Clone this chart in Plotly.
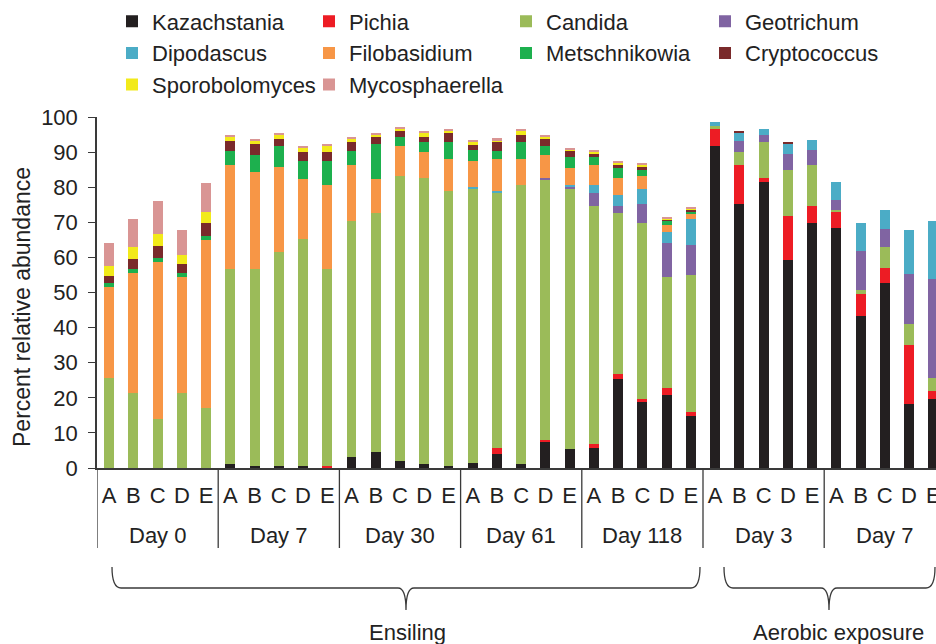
import plotly.graph_objects as go

# ---------------- data ----------------
groups = ["Day 0", "Day 7", "Day 30", "Day 61", "Day 118", "Day 3", "Day 7"]
samples = ["A", "B", "C", "D", "E"]
phases = ["Ensiling", "Aerobic exposure"]

genera = ["Kazachstania", "Pichia", "Candida", "Geotrichum", "Dipodascus",
          "Filobasidium", "Metschnikowia", "Cryptococcus", "Sporobolomyces", "Mycosphaerella"]

kazachstania = [0, 0, 0, 0, 0,
                1.0, 0.5, 0.5, 0.5, 0,
                3.2, 4.6, 2.1, 1.0, 0.5,
                1.5, 4.1, 1.0, 7.4, 5.3,
                5.8, 25.5, 18.7, 20.8, 14.9,
                91.6, 75.2, 81.6, 59.2, 69.9,
                68.3, 43.2, 52.8, 18.1, 19.7]
pichia = [0, 0, 0, 0, 0,
          0, 0, 0, 0, 0.6,
          0, 0, 0, 0, 0,
          0, 1.7, 0, 0.6, 0,
          1.1, 1.2, 1.1, 2.1, 1.1,
          4.9, 11.1, 1.0, 12.7, 4.7,
          4.7, 6.5, 4.3, 17.0, 2.1]
candida = [25.7, 21.5, 14.0, 21.5, 17.2,
           55.7, 56.2, 60.9, 64.7, 56.1,
           67.1, 68.0, 81.1, 81.7, 78.4,
           78.0, 72.6, 79.6, 74.2, 74.2,
           67.8, 45.9, 50.1, 31.6, 39.0,
           1.0, 3.8, 10.3, 13.0, 11.8,
           0.6, 1.0, 5.9, 5.9, 3.8]
geotrichum = [0, 0, 0, 0, 0,
              0, 0, 0, 0, 0,
              0, 0, 0, 0, 0,
              0, 0, 0, 0.5, 0.6,
              3.7, 2.1, 5.3, 9.5, 8.4,
              0, 3.2, 2.1, 4.7, 4.3,
              2.7, 11.2, 5.2, 14.4, 28.2]
dipodascus = [0, 0, 0, 0, 0,
              0, 0, 0, 0, 0,
              0, 0, 0, 0, 0,
              0.6, 0.6, 0, 0, 0.5,
              2.1, 3.2, 4.3, 3.2, 7.5,
              1.2, 2.2, 1.6, 2.8, 2.7,
              5.3, 8.0, 5.4, 12.4, 16.6]
filobasidium = [26.0, 34.0, 44.7, 32.9, 47.9,
                29.6, 27.6, 24.4, 17.0, 23.9,
                16.0, 9.6, 8.5, 7.4, 9.1,
                7.4, 9.0, 7.4, 6.5, 4.8,
                5.9, 4.8, 3.8, 2.1, 1.7,
                0, 0, 0, 0, 0,
                0, 0, 0, 0, 0]
metschnikowia = [0.9, 1.1, 1.0, 1.1, 1.1,
                 3.9, 4.9, 5.9, 5.3, 6.9,
                 3.9, 10.1, 2.7, 2.7, 4.8,
                 3.2, 2.2, 4.8, 2.5, 3.2,
                 2.2, 2.7, 1.6, 1.2, 0.5,
                 0, 0, 0, 0, 0,
                 0, 0, 0, 0, 0]
cryptococcus = [2.2, 3.0, 3.6, 2.6, 3.6,
                3.1, 3.0, 2.1, 2.6, 2.6,
                2.6, 2.1, 1.6, 1.6, 2.7,
                1.6, 2.6, 2.2, 2.1, 1.6,
                1.0, 1.0, 1.1, 0.4, 0.5,
                0, 0.5, 0, 0.5, 0,
                0, 0, 0, 0, 0]
sporobolomyces = [2.7, 3.3, 3.4, 2.7, 3.2,
                  0.9, 1.1, 1.1, 1.2, 1.6,
                  1.0, 0.6, 0.6, 1.0, 0.6,
                  0.5, 0.6, 1.0, 0.6, 0.6,
                  0.6, 0.6, 0.4, 0.3, 0.2,
                  0, 0, 0, 0, 0,
                  0, 0, 0, 0, 0]
mycosphaerella = [6.5, 8.0, 9.5, 6.9, 8.1,
                  0.6, 0.5, 0.6, 0.5, 0.6,
                  0.6, 0.5, 0.5, 0.6, 0.5,
                  0.6, 0.5, 0.6, 0.6, 0.5,
                  0.5, 0.6, 0.6, 0.3, 0.4,
                  0, 0, 0, 0, 0,
                  0, 0, 0, 0, 0]

series = [kazachstania, pichia, candida, geotrichum, dipodascus,
          filobasidium, metschnikowia, cryptococcus, sporobolomyces, mycosphaerella]
colors = ["#231F20", "#ED1C24", "#9BBB59", "#8064A2", "#4BACC6",
          "#F79646", "#1DB04E", "#7A2A2B", "#F2EA1A", "#D99594"]
legend_ids = ["legend", "legend2", "legend3", "legend4",
              "legend", "legend2", "legend3", "legend4",
              "legend", "legend2"]

# ---------------- layout geometry (pixels) ----------------
W, H = 936, 644
ML, MT, MB = 97, 117, 176
PW, PH = W - ML, H - MT - MB
BAR_STEP = 24.24


def px_x(p):
    return (p - ML) / PW


def px_y(p):
    return (H - MB - p) / PH


FONT = "Liberation Sans, Arial, sans-serif"
TXT = "#222222"
AX = "#3a3a3a"
FS = 22

n_per = len(samples)
positions = list(range(len(groups) * n_per))
tick_text = [s for _ in groups for s in samples]

fig = go.Figure()
for name, vals, col, lg in zip(genera, series, colors, legend_ids):
    fig.add_trace(go.Bar(
        x=positions, y=vals, name=name, legend=lg,
        marker=dict(color=col, line=dict(width=0)),
    ))

# legends: one per column
col_centers = [132, 329, 526, 725]
legend_common = dict(
    orientation="v", font=dict(family=FONT, size=FS, color=TXT),
    itemwidth=30, bgcolor="rgba(0,0,0,0)", borderwidth=0,
    xanchor="left", yanchor="top", y=1 + (MT - 0.5) / PH, traceorder="normal",
    itemclick=False, itemdoubleclick=False,
)
legends = {}
for i, key in enumerate(["legend", "legend2", "legend3", "legend4"]):
    legends[key] = dict(legend_common, x=px_x(col_centers[i] - 20))

shapes = []
annotations = []

# group dividers and group labels (in data coordinates on x)
for gi, g in enumerate(groups):
    left = gi * n_per - 0.5
    shapes.append(dict(type="line", xref="x", yref="paper",
                       x0=left, x1=left, y0=0, y1=px_y(548),
                       line=dict(color=AX, width=1.3)))
    annotations.append(dict(text=g, xref="x", yref="paper",
                            x=gi * n_per + (n_per - 1) / 2, y=px_y(535),
                            showarrow=False, xanchor="center", yanchor="middle",
                            font=dict(family=FONT, size=FS, color=TXT)))


# braces
def brace(L, R, C, top=567, mid=588, tip=610):
    xs = px_x
    ys = px_y
    return (f"M {xs(L)},{ys(top)} Q {xs(L)},{ys(mid)} {xs(L+9)},{ys(mid)} "
            f"L {xs(C-8)},{ys(mid)} Q {xs(C)},{ys(mid)} {xs(C)},{ys(tip)} "
            f"Q {xs(C)},{ys(mid)} {xs(C+8)},{ys(mid)} "
            f"L {xs(R-9)},{ys(mid)} Q {xs(R)},{ys(mid)} {xs(R)},{ys(top)}")


shapes += [
    dict(type="path", xref="paper", yref="paper", path=brace(112, 700, 406),
         line=dict(color=AX, width=1.3)),
    dict(type="path", xref="paper", yref="paper", path=brace(724, 935, 829),
         line=dict(color=AX, width=1.3)),
]

annotations += [
    dict(text=phases[0], x=px_x(407), y=px_y(632), xref="paper", yref="paper",
         showarrow=False, font=dict(family=FONT, size=FS, color=TXT),
         xanchor="center", yanchor="middle"),
    dict(text=phases[1], x=px_x(838), y=px_y(632), xref="paper", yref="paper",
         showarrow=False, font=dict(family=FONT, size=FS, color=TXT),
         xanchor="center", yanchor="middle"),
    dict(text="Percent relative abundance", x=px_x(22), y=px_y(307),
         xref="paper", yref="paper", textangle=-90, showarrow=False,
         font=dict(family=FONT, size=23, color=TXT),
         xanchor="center", yanchor="middle"),
]

fig.update_layout(
    width=W, height=H,
    margin=dict(l=ML, r=0, t=MT, b=MB, pad=0),
    barmode="stack", bargap=0.59,
    plot_bgcolor="white", paper_bgcolor="white",
    font=dict(family=FONT, size=FS, color=TXT),
    showlegend=True,
    shapes=shapes, annotations=annotations,
    **legends,
)

fig.update_xaxes(
    range=[-0.5, -0.5 + PW / BAR_STEP],
    tickmode="array", tickvals=positions, ticktext=tick_text,
    ticklabeloverflow="allow",
    showline=True, linecolor=AX, linewidth=1.5,
    ticks="outside", ticklen=7, tickcolor="rgba(0,0,0,0)",
    tickfont=dict(family=FONT, size=FS, color=TXT),
    showgrid=False, zeroline=False, automargin=False,
)
fig.update_yaxes(
    range=[0, 100], dtick=10, tick0=0,
    showline=True, linecolor=AX, linewidth=1.5,
    ticks="outside", ticklen=7, tickcolor=AX, tickwidth=1.3,
    ticklabelstandoff=6,
    tickfont=dict(family=FONT, size=FS, color=TXT),
    showgrid=False, zeroline=False, automargin=False,
)

fig.write_html("out.html")
